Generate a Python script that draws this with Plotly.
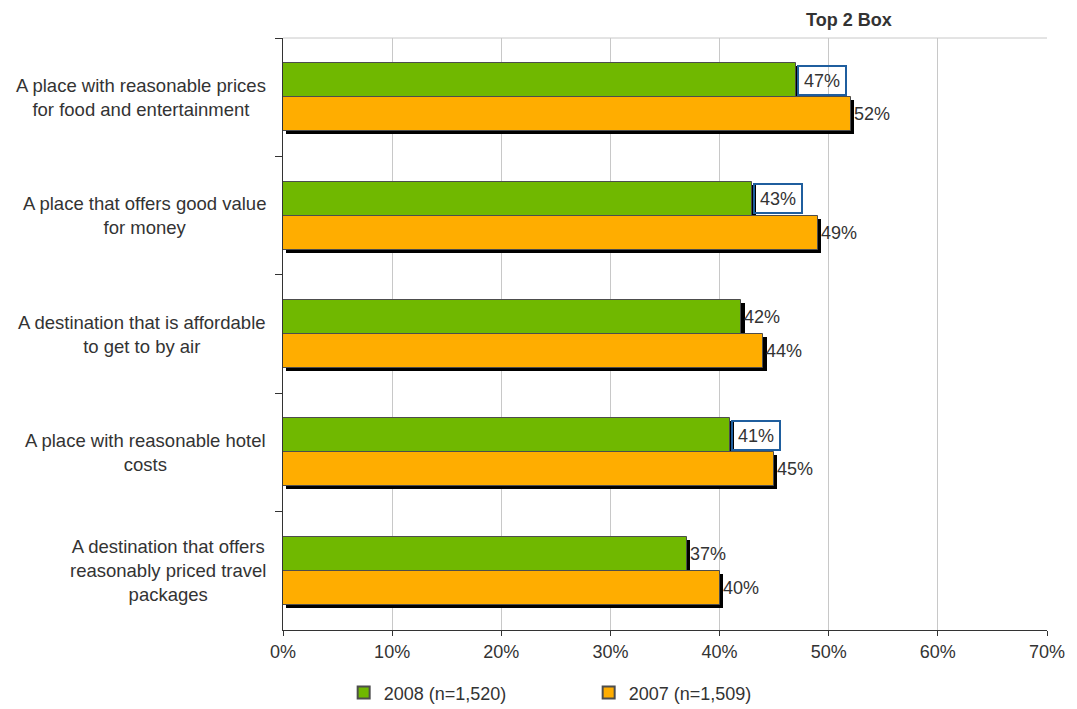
import plotly.graph_objects as go

categories = [
    "A place with reasonable prices<br>for food and entertainment",
    "A place that offers good value<br>for money",
    "A destination that is affordable<br>to get to by air",
    "A place with reasonable hotel<br>costs",
    "A destination that offers<br>reasonably priced travel<br>packages",
]
series_names = ["2008 (n=1,520)", "2007 (n=1,509)"]
values_2008 = [47, 43, 42, 41, 37]
values_2007 = [52, 49, 44, 45, 40]
highlight_2008 = [True, True, False, True, False]
x_ticks = [0, 10, 20, 30, 40, 50, 60, 70]

GREEN = "#70B800"
ORANGE = "#FFAD00"
TXT = "#333333"
FONT = "Liberation Sans, Arial, sans-serif"
FS = 18

W = 0.287
fig = go.Figure()

# shadows
for vals, off in [(values_2008, -W), (values_2007, 0.0)]:
    fig.add_trace(go.Bar(
        y=categories, x=vals, base=0.3, orientation="h",
        offset=off + 0.025, width=W,
        marker=dict(color="black", line=dict(width=0)),
        showlegend=False, hoverinfo="skip",
    ))

for vals, off, col, name in [(values_2008, -W, GREEN, series_names[0]),
                             (values_2007, 0.0, ORANGE, series_names[1])]:
    fig.add_trace(go.Bar(
        y=categories, x=vals, orientation="h", offset=off, width=W,
        marker=dict(color=col, line=dict(color="#4d4d4d", width=1)),
        name=name,
    ))

annotations = []
for i, cat in enumerate(categories):
    # category label (centered multi-line)
    annotations.append(dict(
        x=0, y=i, xref="paper", yref="y", text=cat, showarrow=False,
        xanchor="right", yanchor="middle", align="center", xshift=-15,
        font=dict(family=FONT, size=18.5, color=TXT),
    ))
    for vals, dy, hl in [(values_2008, -W / 2, highlight_2008[i]), (values_2007, W / 2, False)]:
        annotations.append(dict(
            x=vals[i], y=i + dy, xref="x", yref="y",
            text=f"{vals[i]}%", showarrow=False, xanchor="left", yanchor="middle",
            xshift=1 if hl else 3,
            font=dict(family=FONT, size=FS, color=TXT),
            bordercolor="#1F5E9E" if hl else "rgba(0,0,0,0)",
            borderwidth=2 if hl else 0, borderpad=3 if hl else 0,
            width=40 if hl else None, height=21 if hl else None,
            bgcolor="rgba(255,255,255,0)",
        ))

annotations.append(dict(
    x=0.741, y=1.0, xref="paper", yref="paper", xanchor="center", yanchor="middle", yshift=18,
    text="<b>Top 2 Box</b>", showarrow=False,
    font=dict(family=FONT, size=18, color=TXT),
))

fig.update_layout(
    width=1069, height=701,
    margin=dict(l=275, r=30, t=30, b=79),
    paper_bgcolor="white", plot_bgcolor="white",
    barmode="overlay",
    font=dict(family=FONT, size=FS, color=TXT),
    annotations=annotations,
    bargap=0,
    xaxis=dict(
        range=[0, 70], tickvals=x_ticks, ticktext=[f"{v}%" for v in x_ticks],
        showgrid=True, gridcolor="#c8c8c8", gridwidth=1,
        showline=True, linecolor="#333333", linewidth=1,
        ticks="outside", ticklen=5, tickcolor="#333333",
        tickfont=dict(size=FS, color=TXT), zeroline=False, automargin=False,
    ),
    yaxis=dict(
        autorange="reversed", type="category", tickson="boundaries",
        showline=True, linecolor="#333333", linewidth=1,
        ticks="outside", ticklen=7, tickcolor="#333333",
        showticklabels=False, showgrid=False, automargin=False,
    ),
    legend=dict(
        orientation="h", xref="container", yref="container",
        x=0.314, xanchor="left", y=0.023, yanchor="middle",
        entrywidth=200, entrywidthmode="pixels",
        font=dict(size=FS, color=TXT),
        itemsizing="constant",
    ),
    shapes=[dict(type="line", xref="paper", yref="paper", x0=0, x1=1, y0=1, y1=1,
                 line=dict(color="#c8c8c8", width=1))],
)

fig.write_html("out.html")
